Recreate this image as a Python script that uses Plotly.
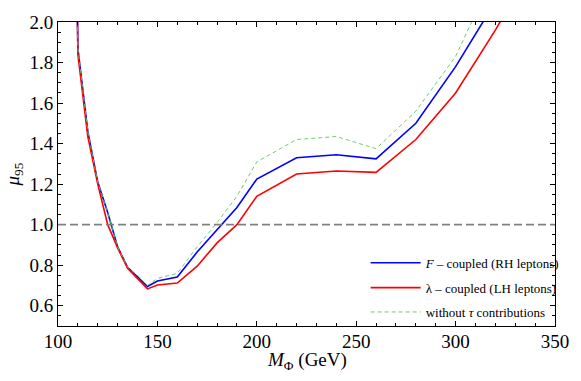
import plotly.graph_objects as go

# Mass points (GeV) and 95% CL signal-strength limits
m_phi = [105, 110, 115, 120, 125, 130, 135, 140, 145, 150,
         160, 170, 180, 190, 200, 220, 240, 260, 280, 300, 320, 340]

mu_f_coupled = [5.6, 1.87, 1.46, 1.21, 1.06, 0.89, 0.79, 0.745, 0.695, 0.722,
                0.742, 0.865, 0.975, 1.085, 1.225, 1.33, 1.345, 1.325, 1.50, 1.78, 2.10, 2.45]

mu_lambda_coupled = [5.5, 1.84, 1.435, 1.20, 1.0, 0.885, 0.785, 0.735, 0.683, 0.702,
                     0.712, 0.795, 0.91, 1.0, 1.14, 1.25, 1.265, 1.258, 1.42, 1.65, 1.96, 2.30]

mu_no_tau = [5.6, 1.87, 1.46, 1.21, 1.06, 0.89, 0.79, 0.75, 0.70, 0.735,
             0.76, 0.89, 1.01, 1.14, 1.31, 1.42, 1.435, 1.375, 1.56, 1.83, 2.25, 2.6]

series_names = [
    "<i>F</i> \u2013 coupled (RH leptons)",
    "\u03bb \u2013 coupled (LH leptons)",
    "without <i>\u03c4</i> contributions",
]

x_title = "<i>M</i><sub>\u03a6</sub> (GeV)"
y_title = "<i>\u03bc</i><sub>95</sub>"

reference_mu = 1.0

_SERIF = "Liberation Serif, Times New Roman, serif"
_BLUE = "#0000FF"
_RED = "#FF0000"
_GREEN = "#5CC85C"
_GREY = "#808080"

fig = go.Figure()

fig.add_trace(
    go.Scatter(
        x=m_phi,
        y=mu_f_coupled,
        mode="lines",
        name=series_names[0],
        legend="legend",
        line={"color": _BLUE, "width": 1.6},
    )
)
fig.add_trace(
    go.Scatter(
        x=m_phi,
        y=mu_lambda_coupled,
        mode="lines",
        name=series_names[1],
        legend="legend2",
        line={"color": _RED, "width": 1.6},
    )
)
fig.add_trace(
    go.Scatter(
        x=m_phi,
        y=mu_no_tau,
        mode="lines",
        name=series_names[2],
        legend="legend3",
        line={"color": _GREEN, "width": 0.9, "dash": "4px,3px"},
    )
)

fig.add_hline(y=reference_mu, line_dash="8px,4px", line_color=_GREY, line_width=1.6)

# x-axis title placed by hand so it sits as close to the ticks as in the reference
fig.add_annotation(
    text=x_title,
    xref="paper",
    yref="paper",
    x=0.5,
    y=-0.115,
    xanchor="center",
    yanchor="middle",
    showarrow=False,
    font={"family": _SERIF, "size": 19, "color": "black"},
)

axis_common = {
    "showgrid": False,
    "zeroline": False,
    "showline": True,
    "linecolor": "black",
    "linewidth": 1,
    "mirror": "allticks",
    "ticks": "inside",
    "ticklen": 5,
    "tickcolor": "black",
    "tickfont": {"family": _SERIF, "size": 19, "color": "black"},
}


def _legend_box(y):
    # one legend per entry so the row spacing can match the reference
    return {
        "x": 0.619,
        "y": y,
        "xanchor": "left",
        "yanchor": "middle",
        "bgcolor": "rgba(0,0,0,0)",
        "itemwidth": 50,
        "font": {"family": _SERIF, "size": 13, "color": "black"},
    }


fig.update_layout(
    width=581,
    height=381,
    paper_bgcolor="white",
    plot_bgcolor="white",
    margin={"l": 56, "r": 16, "t": 12, "b": 55},
    font={"family": _SERIF, "color": "black"},
    showlegend=True,
    legend=_legend_box(0.208),
    legend2=_legend_box(0.126),
    legend3=_legend_box(0.046),
    xaxis={
        **axis_common,
        "range": [100, 350],
        "tick0": 100,
        "dtick": 50,
        "ticklabelstandoff": -2,
        "minor": {"dtick": 10, "ticks": "inside", "ticklen": 3, "tickcolor": "black"},
    },
    yaxis={
        **axis_common,
        "range": [0.5, 2.0],
        "tick0": 0.6,
        "dtick": 0.2,
        "tickformat": ".1f",
        "minor": {"dtick": 0.05, "ticks": "inside", "ticklen": 3, "tickcolor": "black"},
        "title": {"text": y_title, "font": {"family": _SERIF, "size": 19}, "standoff": 4},
    },
)

# drop the page's default body margin so the 581x381 figure fills the window exactly
fig.write_html(
    "out.html",
    config={"displayModeBar": False},
    post_script="document.body.style.margin = '0';",
)
